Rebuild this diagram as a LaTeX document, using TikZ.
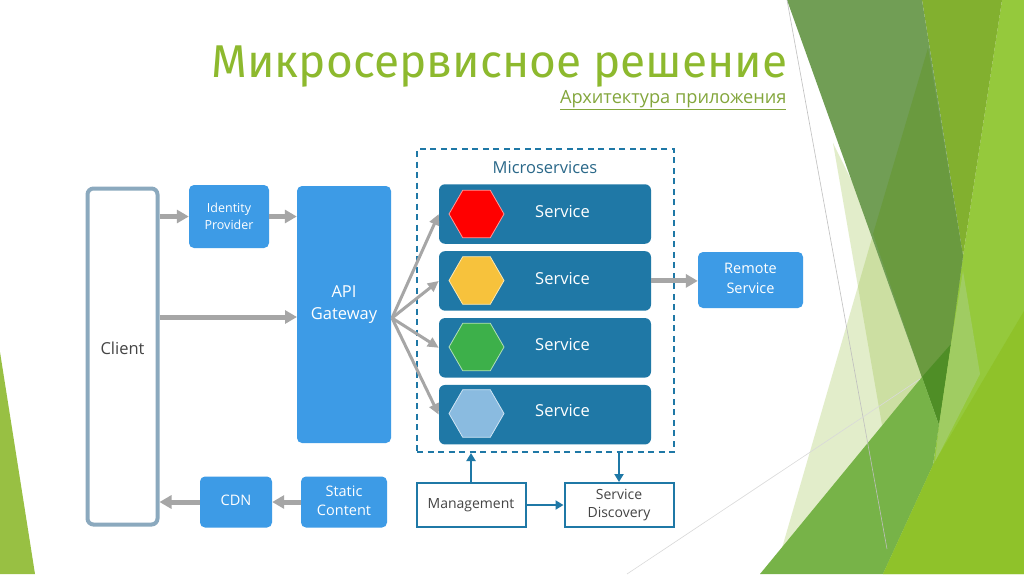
\documentclass[tikz,border=0pt]{standalone}
\usepackage{fontspec}
\setmainfont{Open Sans}
\newfontfamily\titlefont{Fira Sans}
\usetikzlibrary{shapes.geometric, arrows.meta, positioning}
\definecolor{leafgreen}{HTML}{8DB92E}
\definecolor{subgreen}{HTML}{83A63C}
\definecolor{boxblue}{HTML}{3D9BE6}
\definecolor{svcblue}{HTML}{1F78A6}
\definecolor{framegrey}{HTML}{8BA9BE}
\definecolor{linegrey}{HTML}{A6A6A6}
\definecolor{darktext}{HTML}{444444}
\definecolor{hexyellow}{HTML}{F7C23C}
\definecolor{hexgreen}{HTML}{3DB04A}
\definecolor{hexblue}{HTML}{8ABBE0}
\definecolor{slantlight}{HTML}{95C93C}
\definecolor{slantmid}{HTML}{82B02F}
\definecolor{slantgrey}{HTML}{719E55}
\definecolor{slantdark}{HTML}{6A9A3F}
\definecolor{slantdeep}{HTML}{4F8E26}
\definecolor{slantpale}{HTML}{A0CC62}
\definecolor{slantlow}{HTML}{77B348}
\definecolor{slantfoot}{HTML}{8FC22A}
\tikzset{
  bluebox/.style={
    rectangle, rounded corners=5pt, fill=boxblue, inner sep=0pt
  },
  boxcap/.style={
    label={[text=white, align=center, inner sep=0pt, yshift=1.5pt,
            font=\fontsize{14.5}{19.5}\selectfont]center:{#1}}
  },
  smallcap/.style={
    label={[text=white, align=center, inner sep=0pt,
            font=\fontsize{12.5}{17}\selectfont]center:{#1}}
  },
  bigcap/.style={
    label={[text=white, align=center, inner sep=0pt, yshift=10pt,
            font=\fontsize{16.5}{22.5}\selectfont]center:{#1}}
  },
  servicebox/.style={
    rectangle, rounded corners=6pt, fill=svcblue,
    minimum width=212pt, minimum height=59.5pt, inner sep=0pt
  },
  hexagon/.style={
    regular polygon, regular polygon sides=6,
    minimum size=55pt, inner sep=0pt, draw=white!60!#1, fill=#1, line width=0.8pt
  },
  servicetext/.style={text=white, font=\fontsize{16.5}{19}\selectfont},
  whitebox/.style={
    rectangle, draw=svcblue, line width=2pt, fill=white, text=darktext,
    align=center, inner sep=0pt,
    font=\fontsize{14}{18}\selectfont
  },
  grayarrow/.style={-{Triangle[length=12pt,width=13pt]}, line width=5pt, linegrey},
  fanarrow/.style={-{Triangle[length=11pt,width=10pt]}, line width=3pt, linegrey},
  bluearrow/.style={-{Triangle[length=8pt,width=9pt]}, line width=2pt, svcblue}
}
\begin{document}
\begin{tikzpicture}[x=1pt, y=-1pt]
  \useasboundingbox (0,0) rectangle (1024,574);

  % backdrop
  \fill[white] (0,0) rectangle (1024,574);
  \fill[leafgreen!90!white] (0,352) -- (35,574) -- (0,574) -- cycle;
  \fill[leafgreen, fill opacity=0.25] (872,238) -- (900,238) -- (930,377) -- (782,548) -- cycle;
  \fill[leafgreen, fill opacity=0.25] (833,143) -- (880,238) -- (930,377) -- (882,425) -- cycle;
  \fill[slantlight] (1002,0) -- (1024,0) -- (1024,574) -- (883,574) -- (933,465) -- (963,256) -- cycle;
  \fill[slantmid] (922,0) -- (1002,0) -- (963,256) -- cycle;
  \fill[slantgrey] (787,0) -- (922,0) -- (963,256) -- (939,425) -- cycle;
  \fill[slantdark] (928,48) -- (963,256) -- (951,344) -- (922,377) -- (873,234) -- cycle;
  \fill[slantdeep] (951,344) -- (922,377) -- (939,425) -- cycle;
  \fill[slantpale] (963,271) -- (980,374) -- (935,462) -- (939,425) -- (951,344) -- cycle;
  \fill[slantlow] (922,377) -- (939,425) -- (933,465) -- (883,574) -- (760,574) -- cycle;
  \fill[slantfoot] (1024,311) -- (1024,574) -- (883,574) -- (933,465) -- cycle;
  \draw[black!25, line width=0.6pt] (787,0) -- (887,549);
  \draw[black!15, line width=0.6pt] (627,574) -- (920,379);

  % heading
  \node[anchor=east, text=leafgreen, font=\titlefont\fontsize{46}{50}\selectfont] (heading) at (791,67)
        {Микросервисное решение};
  \node[anchor=east, text=subgreen, font=\fontsize{18.2}{20}\selectfont] (subheading) at (790,100)
        {\underline{Архитектура приложения}};

  % left column
  \node[rectangle, rounded corners=6pt, draw=framegrey, line width=4pt, fill=white,
        minimum width=70pt, minimum height=336pt,
        label={[text=darktext, yshift=8.5pt, font=\fontsize{16.5}{19}\selectfont]center:Client}]
        (client) at (122.5,356.5) {};
  \node[bluebox, minimum width=80pt, minimum height=63pt, smallcap={Identity\\Provider}] (idp) at (229,216.5) {};
  \node[bluebox, minimum width=94pt, minimum height=257pt, bigcap={API\\Gateway}] (gateway) at (344,314.5) {};
  \node[bluebox, minimum width=72pt, minimum height=51pt, boxcap={CDN}] (cdn) at (236,502) {};
  \node[bluebox, minimum width=86pt, minimum height=51pt, boxcap={Static\\Content}] (static) at (344,502) {};
  \coordinate (gatewayin) at (297,317);
  \coordinate (gatewayout) at (392,318);

  % microservices
  \node[rectangle, draw=svcblue, line width=2pt, dash pattern=on 6pt off 4.5pt,
        minimum width=257pt, minimum height=303pt] (group) at (545.5,300.5) {};
  \node[text=svcblue!70!darktext, font=\fontsize{16.5}{20}\selectfont] (grouplabel) at (545,168) {Microservices};

  \node[servicebox] (svc1) at (545,214) {};
  \node[servicebox, below=7pt of svc1] (svc2) {};
  \node[servicebox, below=7pt of svc2] (svc3) {};
  \node[servicebox, below=7pt of svc3] (svc4) {};

  \node[hexagon=red] (hex1) at (476.5,214) {};
  \node[hexagon=hexyellow] (hex2) at (476.5,280.5) {};
  \node[hexagon=hexgreen] (hex3) at (476.5,347) {};
  \node[hexagon=hexblue] (hex4) at (476.5,413.5) {};

  \node[servicetext] (name1) at (562.5,212) {Service};
  \node[servicetext] (name2) at (562.5,279) {Service};
  \node[servicetext] (name3) at (562.5,345) {Service};
  \node[servicetext] (name4) at (562.5,411) {Service};

  \node[bluebox, minimum width=105pt, minimum height=56pt, boxcap={Remote\\Service}] (remote) at (750.5,280) {};

  \node[whitebox, minimum width=109pt, minimum height=44pt] (mgmt) at (471,505) {Management};
  \node[whitebox, minimum width=109pt, minimum height=44pt] (disco) at (619,505) {Service\\Discovery};

  % connectors
  \draw[grayarrow] (client.east |- idp.west) -- (idp.west);
  \draw[grayarrow] (idp.east) -- (idp.east -| gateway.west);
  \draw[grayarrow] (client.east |- gatewayin) -- (gatewayin);
  \draw[grayarrow] (cdn.west) -- (cdn.west -| client.east);
  \draw[grayarrow] (static.west) -- (cdn.east);
  \draw[fanarrow] (gatewayout) -- (svc1.west);
  \draw[fanarrow] (gatewayout) -- (svc2.west);
  \draw[fanarrow] (gatewayout) -- (svc3.west);
  \draw[fanarrow] (gatewayout) -- (svc4.west);
  \draw[grayarrow] (svc2.east) -- (svc2.east -| remote.west);
  \draw[bluearrow] (mgmt.north) -- (mgmt.north |- group.south);
  \draw[bluearrow] (disco.north |- group.south) -- (disco.north);
  \draw[bluearrow] (mgmt.east) -- (disco.west);

\end{tikzpicture}
\end{document}
